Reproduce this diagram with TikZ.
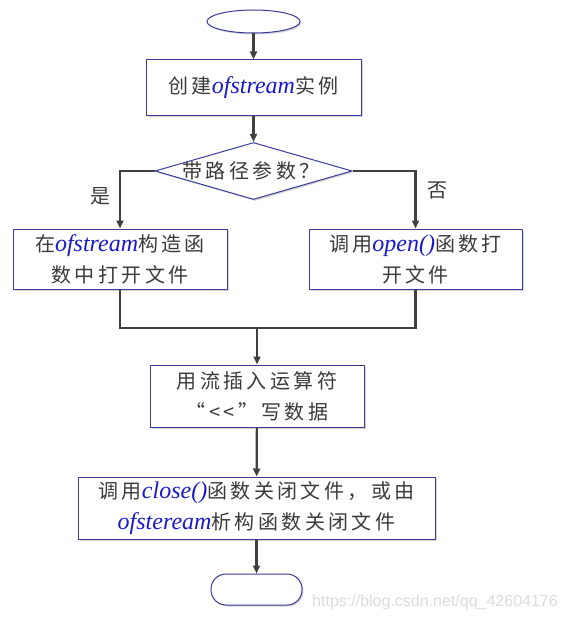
\documentclass[tikz,border=0pt]{standalone}
\usepackage{fontspec}
\setmainfont{Liberation Serif}
\newfontfamily\cjk[LetterSpace=17]{Noto Sans CJK SC}
\usetikzlibrary{shapes.geometric,arrows.meta,shadows}
\definecolor{txtgray}{HTML}{3A3A3A}
\definecolor{codeblue}{HTML}{1A1ACC}
\definecolor{bordblue}{HTML}{3B3B9C}
\definecolor{arrgray}{HTML}{404040}
\newcommand{\en}[1]{{\rmfamily\itshape\fontsize{24}{31}\selectfont\color{codeblue}#1}}
\tikzset{
  x=1pt, y=-1pt,
  txt/.style={font=\cjk\fontsize{20}{31}\selectfont, text=txtgray, align=center, inner sep=0pt},
  procbox/.style={draw=bordblue, line width=1pt, fill=white, txt,
    drop shadow={shadow xshift=1.5pt, shadow yshift=-1.5pt, opacity=0.35, fill=gray}},
  term/.style={procbox},
  arr/.style={draw=arrgray, line width=2.2pt, -{Triangle[length=8pt,width=7pt]}},
  ln/.style={draw=arrgray, line width=2.2pt},
}
\begin{document}
\begin{tikzpicture}
\useasboundingbox (0,0) rectangle (566,620);
% terminals
\node[term, shape=ellipse, minimum width=93pt, minimum height=23pt] (start) at (253.5,21.5) {};
\node[procbox, minimum width=215pt, minimum height=56pt] (b1) at (253.5,88) {创建\en{ofstream}实例};
\node[procbox, shape=diamond, minimum width=197pt, minimum height=57pt, inner sep=0pt] (d) at (253.5,171) {};
\node[txt] (dt) at (251,171) {带路径参数？};
\node[procbox, minimum width=214pt, minimum height=60pt] (l) at (120,259) {在\en{ofstream}构造函\\数中打开文件};
\node[procbox, minimum width=213pt, minimum height=60pt] (r) at (415.5,259) {调用\en{open()}函数打\\开文件};
\node[procbox, minimum width=214pt, minimum height=62pt] (b3) at (257,396) {用流插入运算符\\“<<”写数据};
\node[procbox, minimum width=357pt, minimum height=62pt] (b4) at (256.5,508) {调用\en{close()}函数关闭文件，或由\\\en{ofsteream}析构函数关闭文件};
\node[term, rounded corners=15pt, minimum width=91pt, minimum height=31pt] (end) at (256.5,589.5) {};
% labels
\node[txt] (yes) at (100,196) {是};
\node[txt] (no) at (437,190) {否};
\node[font=\fontspec{Liberation Sans}\fontsize{16}{18}\selectfont, text=black!14, inner sep=0pt] (wm) at (435,602) {https://blog.csdn.net/qq\_42604176};
% connectors
\coordinate (m) at (257,328);
\draw[arr] (start) -- (b1);
\draw[arr] (b1) -- (d);
\draw[arr] (d.west) -| (l.north);
\draw[arr] (d.east) -| (r.north);
\draw[ln] (l.south) |- (m) -| (r.south);
\draw[arr] (m) -- (b3.north);
\draw[arr] (b3) -- (b4);
\draw[arr] (b4) -- (end);
\end{tikzpicture}
\end{document}
